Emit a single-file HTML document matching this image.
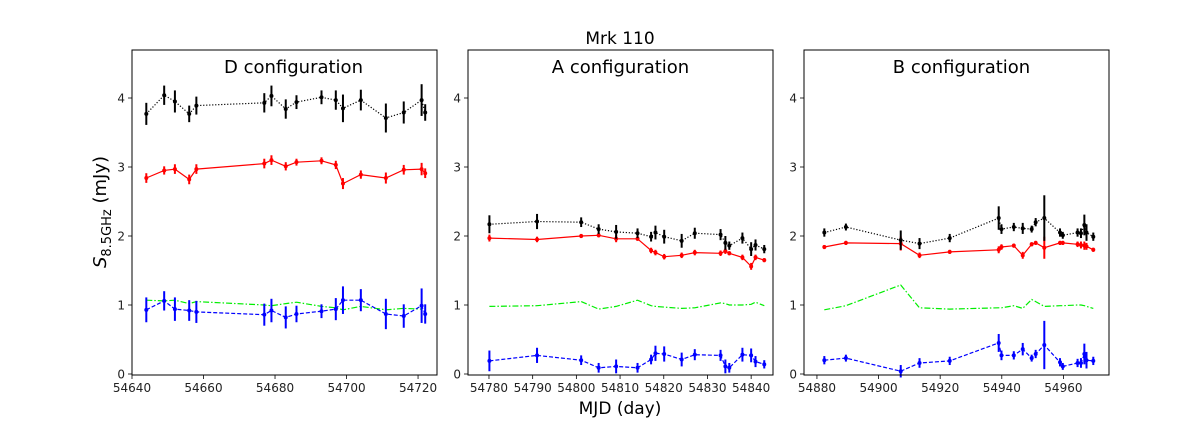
<!DOCTYPE html>
<html><head><meta charset="utf-8"><style>
html,body{margin:0;padding:0;background:#fff;}
svg{display:block;font-family:"DejaVu Sans","Liberation Sans",sans-serif;}
</style></head><body>
<svg id="chart" width="1196" height="421" viewBox="0 0 1196 421">
<text x="620" y="44" font-size="17" text-anchor="middle">Mrk 110</text>
<text x="620" y="414" font-size="17" text-anchor="middle">MJD (day)</text>
<text transform="translate(106,212) rotate(-90)" font-size="18" text-anchor="middle"><tspan font-style="italic">S</tspan><tspan font-size="13" dy="5">8.5GHz</tspan><tspan dy="-5"> (mJy)</tspan></text>
<g id="panels"></g>
</svg>
<script>
// Panel D
const dMjd=[54644,54649,54652,54656,54658,54677,54679,54683,54686,54693,54697,54699,54704,54711,54716,54721,54722];
const dBlack=[3.77,4.04,3.95,3.77,3.89,3.93,4.03,3.84,3.94,4.01,3.97,3.85,3.97,3.71,3.79,3.97,3.79];
const dBlackErr=[0.16,0.14,0.16,0.12,0.13,0.14,0.15,0.14,0.1,0.1,0.14,0.2,0.15,0.21,0.16,0.23,0.12];
const dRed=[2.84,2.95,2.97,2.82,2.97,3.05,3.10,3.01,3.07,3.09,3.03,2.76,2.89,2.84,2.96,2.97,2.91];
const dRedErr=[0.07,0.06,0.07,0.07,0.07,0.07,0.07,0.06,0.05,0.05,0.06,0.08,0.06,0.08,0.07,0.09,0.07];
const dGreen=[1.07,1.06,1.07,1.02,1.05,1.00,0.99,1.02,1.04,0.98,0.96,0.93,0.98,0.93,0.95,0.94,0.94];
const dBlue=[0.93,1.06,0.94,0.92,0.90,0.86,0.92,0.82,0.87,0.91,0.94,1.07,1.07,0.87,0.84,0.99,0.87];
const dBlueErr=[0.18,0.14,0.17,0.15,0.16,0.16,0.17,0.16,0.12,0.1,0.16,0.2,0.16,0.22,0.17,0.25,0.14];
// Panel A
const aMjd=[54780.1,54791,54801.1,54805.1,54809.1,54814,54817.1,54818.1,54820.1,54824.1,54827.1,54833,54834.1,54835,54838,54840,54841,54843];
const aBlack=[2.17,2.21,2.20,2.10,2.06,2.04,1.99,2.05,1.99,1.93,2.04,2.02,1.90,1.86,1.97,1.81,1.87,1.81];
const aBlackErr=[0.13,0.11,0.07,0.07,0.1,0.07,0.07,0.1,0.1,0.1,0.08,0.08,0.1,0.06,0.08,0.1,0.08,0.06];
const aRed=[1.97,1.95,2.00,2.01,1.96,1.96,1.79,1.76,1.70,1.72,1.76,1.75,1.78,1.75,1.69,1.56,1.69,1.65];
const aRedErr=[0.05,0.04,0.03,0.03,0.05,0.03,0.04,0.04,0.04,0.04,0.04,0.04,0.04,0.03,0.04,0.05,0.04,0.03];
const aGreen=[0.98,0.99,1.05,0.94,0.98,1.07,0.99,0.98,0.97,0.95,0.96,1.03,1.02,1.00,1.00,1.01,1.04,0.99];
const aBlue=[0.19,0.27,0.20,0.09,0.11,0.09,0.21,0.30,0.29,0.21,0.28,0.27,0.11,0.09,0.28,0.27,0.18,0.14];
const aBlueErr=[0.15,0.11,0.07,0.07,0.1,0.07,0.07,0.11,0.11,0.1,0.08,0.08,0.1,0.07,0.1,0.1,0.08,0.06];
// Panel B
const bMjd=[54882.4,54889.4,54907.2,54913.3,54923.1,54939,54939.9,54943.9,54946.8,54949.7,54951,54953.8,54958.9,54959.8,54964.6,54965.7,54966.8,54967.5,54969.7];
const bBlack=[2.05,2.13,1.94,1.89,1.97,2.26,2.10,2.13,2.11,2.10,2.20,2.26,2.05,2.01,2.05,2.04,2.16,2.05,1.99];
const bBlackErr=[0.06,0.05,0.14,0.08,0.06,0.17,0.07,0.06,0.08,0.05,0.06,0.33,0.06,0.05,0.06,0.07,0.15,0.12,0.06];
const bRed=[1.84,1.90,1.89,1.72,1.77,1.80,1.84,1.86,1.72,1.88,1.90,1.83,1.90,1.90,1.88,1.87,1.86,1.85,1.80];
const bRedErr=[0.03,0.03,0.1,0.04,0.03,0.05,0.04,0.03,0.05,0.03,0.03,0.16,0.03,0.03,0.04,0.05,0.06,0.05,0.03];
const bGreen=[0.93,0.99,1.29,0.96,0.94,0.96,0.96,0.99,0.95,1.08,1.05,0.98,0.99,0.99,1.00,1.00,0.99,0.98,0.95];
const bBlue=[0.20,0.23,0.04,0.16,0.19,0.45,0.27,0.27,0.36,0.23,0.29,0.42,0.17,0.11,0.16,0.16,0.29,0.20,0.19];
const bBlueErr=[0.06,0.05,0.09,0.07,0.06,0.13,0.07,0.06,0.09,0.05,0.06,0.35,0.06,0.05,0.06,0.07,0.15,0.12,0.06];

const yTicks=[0,1,2,3,4];
const dXTicks=[54640,54660,54680,54700,54720];
const aXTicks=[54780,54790,54800,54810,54820,54830,54840];
const bXTicks=[54880,54900,54920,54940,54960];

const NS="http://www.w3.org/2000/svg";
const root=document.getElementById('panels');
function mk(tag,attrs,parent){const e=document.createElementNS(NS,tag);for(const k in attrs)e.setAttribute(k,attrs[k]);parent.appendChild(e);return e;}

const panels=[
 {name:'d',title:'D configuration',tdx:9,left:132,xmin:54640.0,xmax:54725.3,mjd:dMjd,bk:dBlack,bkE:dBlackErr,rd:dRed,rdE:dRedErr,gr:dGreen,bl:dBlue,blE:dBlueErr,xt:dXTicks,grN:16},
 {name:'a',title:'A configuration',tdx:0,left:468,xmin:54775.2,xmax:54845.0,mjd:aMjd,bk:aBlack,bkE:aBlackErr,rd:aRed,rdE:aRedErr,gr:aGreen,bl:aBlue,blE:aBlueErr,xt:aXTicks,grN:18},
 {name:'b',title:'B configuration',tdx:5,left:804,xmin:54875.8,xmax:54974.8,mjd:bMjd,bk:bBlack,bkE:bBlackErr,rd:bRed,rdE:bRedErr,gr:bGreen,bl:bBlue,blE:bBlueErr,xt:bXTicks,grN:19}
];
const plotW=305,plotTop=50,plotBottom=375;
function yS(v){return plotBottom-1-v*69;}

panels.forEach(p=>{
 const g=mk('g',{},root);
 
 
 const xS=v=>p.left+(v-p.xmin)/(p.xmax-p.xmin)*plotW;
 const t=mk('text',{x:p.left+plotW/2+p.tdx,y:73,'font-size':18,'text-anchor':'middle'},g);
 t.textContent=p.title;
 
 
 yTicks.forEach(v=>{
  const y=yS(v);
  const tk=mk('line',{x1:p.left-4,x2:p.left,y1:y,y2:y,stroke:'#000','stroke-width':0.8},g);
  
  
  const lb=mk('text',{x:p.left-7,y:y+4.5,'font-size':12,'text-anchor':'end',fill:'#222'},g);
  lb.textContent=v;
  
  
 });
 p.xt.forEach(v=>{
  const x=xS(v);
  const tk=mk('line',{x1:x,x2:x,y1:plotBottom,y2:plotBottom+4,stroke:'#000','stroke-width':0.8},g);
  
  
  const lb=mk('text',{x:x,y:plotBottom+17,'font-size':12,'text-anchor':'middle',fill:'#222'},g);
  lb.textContent=v;
  
  
 });
 function series(vals,errs,color,dash,nm,npts){
  const n=npts||vals.length;
  let d='';
  for(let i=0;i<n;i++)d+=(i?'L':'M')+xS(p.mjd[i]).toFixed(1)+','+yS(vals[i]).toFixed(1);
  const pl=mk('path',{d:d,fill:'none',stroke:color,'stroke-width':1.2,'stroke-dasharray':dash},g);
  
  
  if(!errs)return;
  for(let i=0;i<n;i++){
   const x=xS(p.mjd[i]),y=yS(vals[i]),e=errs[i]*69;
   const eb=mk('line',{x1:x,x2:x,y1:y-e,y2:y+e,stroke:color,'stroke-width':2},g);
   
   
   const c=mk('circle',{cx:x,cy:y,r:2,fill:color},g);
   
   
  }
 }
 series(p.gr,null,'#00ee00','6,2,1.5,2','green-series',p.grN);
 series(p.bl,p.blE,'#0000ff','4,2','blue-series');
 series(p.rd,p.rdE,'#ff0000','none','red-series');
 series(p.bk,p.bkE,'#000000','1.2,1.8','black-series');
 const fr=mk('rect',{x:p.left,y:plotTop,width:plotW,height:plotBottom-plotTop,fill:'none',stroke:'#000','stroke-width':1},g);
 
 
});
</script>
</body></html>
